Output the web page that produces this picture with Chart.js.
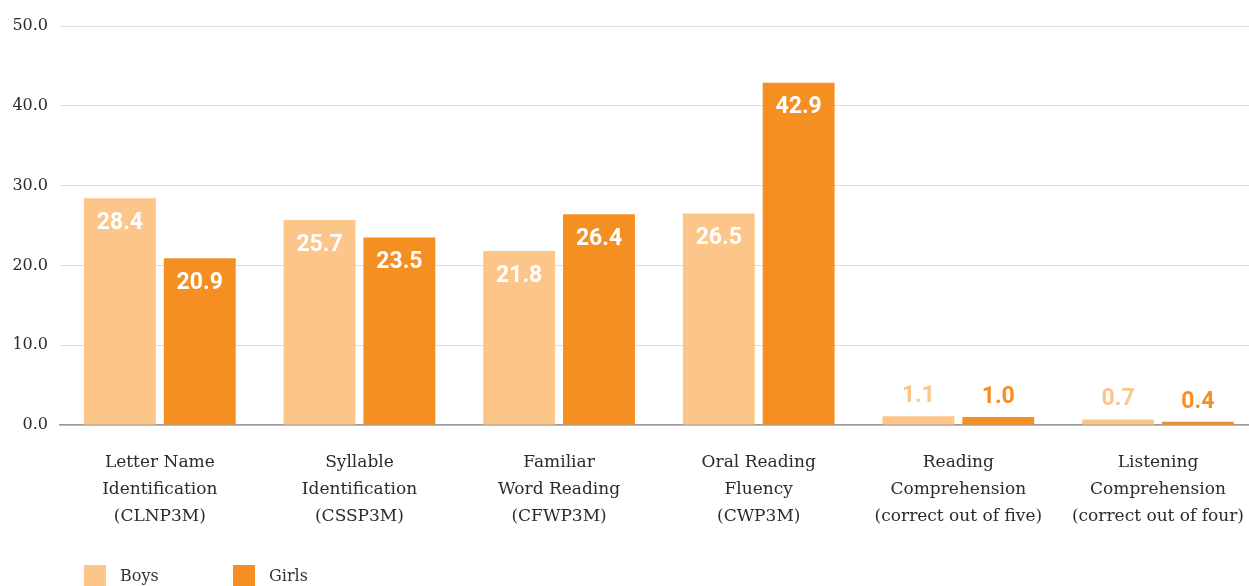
<!DOCTYPE html>
<html>
<head>
<meta charset="utf-8">
<script src="https://cdn.jsdelivr.net/npm/chart.js@4/dist/chart.umd.min.js"></script>
<style>
  html, body { margin: 0; padding: 0; background: #fff; overflow: hidden; }
  #wrap { width: 1268px; height: 600px; }
</style>
</head>
<body>
<div id="wrap"><canvas id="scoresChart" width="1268" height="600"></canvas></div>
<script>
var categories = [
    ['Letter Name', 'Identification', '(CLNP3M)'],
    ['Syllable', 'Identification', '(CSSP3M)'],
    ['Familiar', 'Word Reading', '(CFWP3M)'],
    ['Oral Reading', 'Fluency', '(CWP3M)'],
    ['Reading', 'Comprehension', '(correct out of five)'],
    ['Listening', 'Comprehension', '(correct out of four)']
];
var boys = [28.4, 25.7, 21.8, 26.5, 1.1, 0.7];
var girls = [20.9, 23.5, 26.4, 42.9, 1.0, 0.4];
var yTicks = [0, 10, 20, 30, 40, 50];

var boysColor = '#fcc589';
var girlsColor = '#f68f21';
var serif = '"DejaVu Serif", "Liberation Serif", serif';

// value labels: white inside tall bars, bar-coloured above short ones
var valueLabels = {
    id: 'valueLabels',
    afterDatasetsDraw: function (chart) {
        var ctx = chart.ctx;
        ctx.save();
        ctx.font = 'bold 23px Roboto';
        ctx.textAlign = 'center';
        ctx.textBaseline = 'middle';
        chart.data.datasets.forEach(function (ds, i) {
            chart.getDatasetMeta(i).data.forEach(function (bar, j) {
                var h = bar.base - bar.y;
                var text = ds.data[j].toFixed(1);
                if (h > 40) {
                    ctx.fillStyle = '#ffffff';
                    ctx.fillText(text, bar.x, bar.y + 25);
                } else {
                    ctx.fillStyle = ds.backgroundColor;
                    ctx.fillText(text, bar.x, bar.y - 20);
                }
            });
        });
        ctx.restore();
    }
};

// legend along the bottom-left, square swatches
var bottomLegend = {
    id: 'bottomLegend',
    afterDraw: function (chart) {
        var ctx = chart.ctx;
        var x = 84, y = 565;
        ctx.save();
        ctx.font = '16px ' + serif;
        ctx.textBaseline = 'middle';
        ctx.textAlign = 'left';
        chart.data.datasets.forEach(function (ds) {
            ctx.fillStyle = ds.backgroundColor;
            ctx.fillRect(x, y, 22, 22);
            ctx.fillStyle = '#333';
            ctx.fillText(ds.label, x + 36, y + 12);
            x += 149;
        });
        ctx.restore();
    }
};

var ctx = document.getElementById('scoresChart').getContext('2d');
var chart = new Chart(ctx, {
    type: 'bar',
    data: {
        labels: categories,
        datasets: [
            { label: 'Boys', data: boys, backgroundColor: boysColor },
            { label: 'Girls', data: girls, backgroundColor: girlsColor }
        ]
    },
    options: {
        responsive: false,
        animation: false,
        devicePixelRatio: 1,
        categoryPercentage: 0.8,
        barPercentage: 0.9,
        layout: { padding: { top: 26, right: 0, bottom: 51, left: 0 } },
        plugins: {
            legend: { display: false },
            tooltip: { enabled: false }
        },
        scales: {
            x: {
                grid: { display: false, drawTicks: false },
                border: { display: true, color: '#9a9a9a', width: 1.5 },
                ticks: {
                    padding: 24,
                    color: '#2b2b2b',
                    maxRotation: 0,
                    autoSkip: false,
                    font: { family: serif, size: 17, lineHeight: 1.59 }
                },
                afterFit: function (scale) { scale.height = 124; }
            },
            y: {
                min: 0,
                max: 50,
                afterBuildTicks: function (scale) {
                    scale.ticks = yTicks.map(function (v) { return { value: v }; });
                },
                grid: { color: '#dddddd', drawTicks: false },
                border: { display: false },
                ticks: {
                    padding: 12,
                    color: '#2b2b2b',
                    font: { family: serif, size: 16 },
                    callback: function (v) { return v.toFixed(1); }
                },
                afterFit: function (scale) { scale.width = 60; }
            }
        }
    },
    plugins: [valueLabels, bottomLegend]
});
</script>
</body>
</html>
